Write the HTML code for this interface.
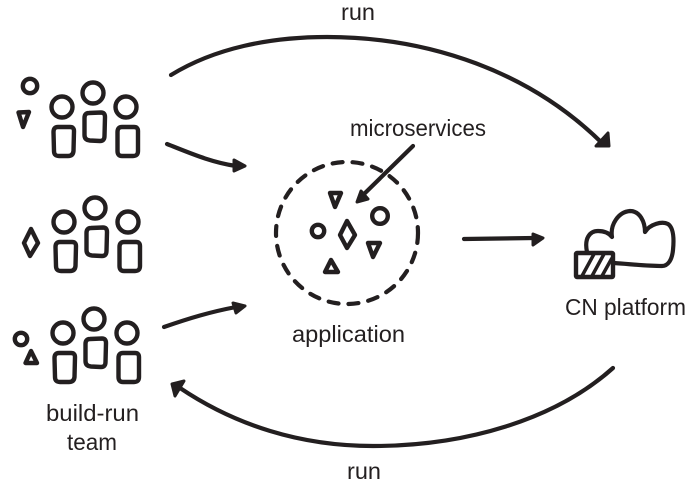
<!DOCTYPE html>
<html><head><meta charset="utf-8"><style>
html,body{margin:0;padding:0;background:#fff}
svg{display:block}
text{font-family:"Liberation Sans",sans-serif;font-size:23px;fill:#231f20}
.s{fill:none;stroke:#231f20;stroke-width:4.4;stroke-linecap:round;stroke-linejoin:round}
.a{fill:none;stroke:#231f20;stroke-width:4.2;stroke-linecap:round;stroke-linejoin:round}
.f{fill:#231f20;stroke:#231f20;stroke-width:3;stroke-linejoin:round}
</style></head><body>
<svg width="698" height="483" viewBox="0 0 698 483" xmlns="http://www.w3.org/2000/svg">
<defs>
<g id="team">
<circle class="s" cx="62" cy="107" r="10.5"/>
<circle class="s" cx="93" cy="93" r="10.5"/>
<circle class="s" cx="126" cy="107" r="10.5"/>
<path class="s" d="M58,127 L70,127 Q74,127 74,131 L73.500,151 Q73,156 68,156 L59,156 Q54,156 54,151 L53.500,132 Q53.500,127 58,127 Z"/>
<path class="s" d="M89,113 L101,112.500 Q105,112.500 105,117 L104.500,136 Q104.500,141 100,141 L90,140.500 Q84.500,140 84.500,135 L84.500,118 Q84.500,113 89,113 Z"/>
<path class="s" d="M122,127 L134,127 Q138,127 138,131 L138,151 Q138,156 133,156 L122,156 Q117.500,156 117.500,151 L117.500,132 Q117.500,127 122,127 Z"/>
</g>
</defs>
<use href="#team"/>
<use href="#team" x="2" y="115"/>
<use href="#team" x="1" y="226"/>

<circle class="s" cx="30" cy="86" r="7.200"/>
<path class="s" d="M18.500,112.500 L29,112 L23,127 Z"/>
<path class="s" d="M31,229 L38,243 L30,256 L24,243 Z"/>
<circle class="s" cx="21" cy="339" r="6.200"/>
<path class="s" d="M31,351 L37,363 L25.500,363 Z"/>

<!-- arrows -->
<path class="a" d="M171,75 C215,48 270,37 327,37 C430,37 530,72 602,143"/>
<path class="f" d="M608,133 L609,146 L596,146 Z"/>
<path class="a" d="M167,144 C190,153 210,162 236,166"/>
<path class="f" d="M234,160 L245,166 L234,171 Z"/>
<path class="a" d="M164,327 C190,318 210,312 236,307"/>
<path class="f" d="M233,303 L245,306 L236,313 Z"/>
<path class="a" d="M613,368 C555,420 465,446 373,446 C300,446 235,425 180,388"/>
<path class="f" d="M172,384 L184,381 L175,396 Z"/>
<path class="a" d="M464,239 L534,238"/>
<path class="f" d="M533,234 L543,238 L533,245 Z"/>
<path class="a" d="M413,146 L363,195"/>
<path class="f" d="M357,202 L361,191 L368,199 Z"/>

<!-- application -->
<circle class="a" cx="347" cy="233" r="71" stroke-dasharray="10 10"/>
<path class="s" d="M330,193 L341,193 L335,207 Z"/>
<circle class="s" cx="318" cy="231" r="6.200"/>
<circle class="s" cx="380" cy="216" r="7.800"/>
<path class="s" d="M347,221 L355,235 L347,248 L340,235 Z"/>
<path class="s" d="M368,243 L380,243 L373,257 Z"/>
<path class="s" d="M331,260 L338,272 L325,272 Z"/>

<!-- cloud -->
<path class="a" d="M587,252 C584,238 590,231 598,231 C604,231 609,233 612,237 C610,225 618,212 630,211 C640,211 645,222 645,232 C650,224 662,221 668,224 C674,228 674,240 673,250 C672,260 668,266 662,266 C645,266 630,264 614,263"/>
<rect class="s" x="576" y="253" width="37" height="24" rx="1"/>
<path d="M582,276 L594,254 M592,276 L604,254 M602,276 L612,258" fill="none" stroke="#231f20" stroke-width="3.500"/>

<!-- labels -->
<text x="341" y="20" textLength="34" lengthAdjust="spacingAndGlyphs">run</text>
<text x="350" y="136" textLength="136" lengthAdjust="spacingAndGlyphs">microservices</text>
<text x="292" y="342" textLength="113" lengthAdjust="spacingAndGlyphs">application</text>
<text x="565" y="315" textLength="121" lengthAdjust="spacingAndGlyphs">CN platform</text>
<text x="46" y="421" textLength="93" lengthAdjust="spacingAndGlyphs">build-run</text>
<text x="67" y="450" textLength="50" lengthAdjust="spacingAndGlyphs">team</text>
<text x="347" y="479" textLength="34" lengthAdjust="spacingAndGlyphs">run</text>
</svg>
</body></html>
